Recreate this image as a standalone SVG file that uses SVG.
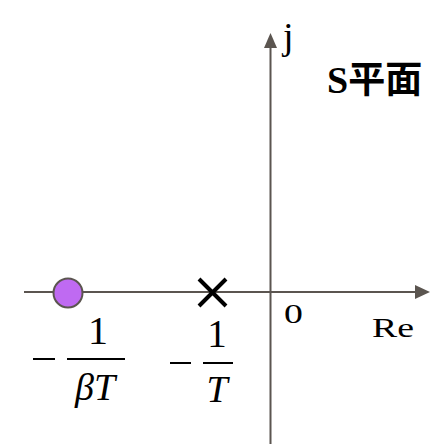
<svg xmlns="http://www.w3.org/2000/svg" width="446" height="448" viewBox="0 0 446 448">
<style>
.axis{stroke:#5b5550;stroke-width:2;fill:none}
.t{font-family:"Liberation Serif","Times New Roman",serif;fill:#000}
.cjk{font-family:"Noto Sans CJK SC",sans-serif;font-weight:bold}
.it{font-style:italic}
.bar{stroke:#000;stroke-width:2}
</style>
<rect width="446" height="448" fill="#fff"/>
<g id="connectors">
<line class="axis" x1="24" y1="292" x2="417" y2="292"/>
<path d="M415,285 L430,292 L415,299 z" fill="#5b5550"/>
<line class="axis" x1="270.5" y1="444" x2="270.5" y2="46"/>
<path d="M264,48 L270.5,33 L277,48 z" fill="#5b5550"/>
</g>
<g id="zero-pole">
<circle cx="68" cy="293" r="14.5" fill="#bf6af2" stroke="#5b5550" stroke-width="2"/>
</g>
<g id="pole">
<path d="M199,279 L226,306 M226,279 L199,306" stroke="#000" stroke-width="4"/>
</g>
<g id="labels">
<text class="t" x="283" y="49" font-size="38">j</text>
<text class="t" x="327" y="93" font-size="38" font-weight="bold">S<tspan class="cjk" font-size="37" dx="0">平面</tspan></text>
<text class="t" transform="translate(284,323) scale(1.35,1)" x="0" y="0" font-size="28">0</text>
<text class="t" transform="translate(372,337) scale(1.35,1)" x="0" y="0" font-size="28">Re</text>
</g>
<g id="frac1">
<line class="bar" x1="33" y1="359" x2="55" y2="359"/>
<line class="bar" x1="67" y1="359" x2="125" y2="359"/>
<text class="t" x="98" y="344" font-size="40" text-anchor="middle">1</text>
<text class="t it" x="95" y="400" font-size="38" text-anchor="middle">βT</text>
</g>
<g id="frac2">
<line class="bar" x1="170" y1="363" x2="191" y2="363"/>
<line class="bar" x1="203" y1="363" x2="233" y2="363"/>
<text class="t" x="217" y="347" font-size="39" text-anchor="middle">1</text>
<text class="t it" x="217" y="402" font-size="38" text-anchor="middle">T</text>
</g>
</svg>
